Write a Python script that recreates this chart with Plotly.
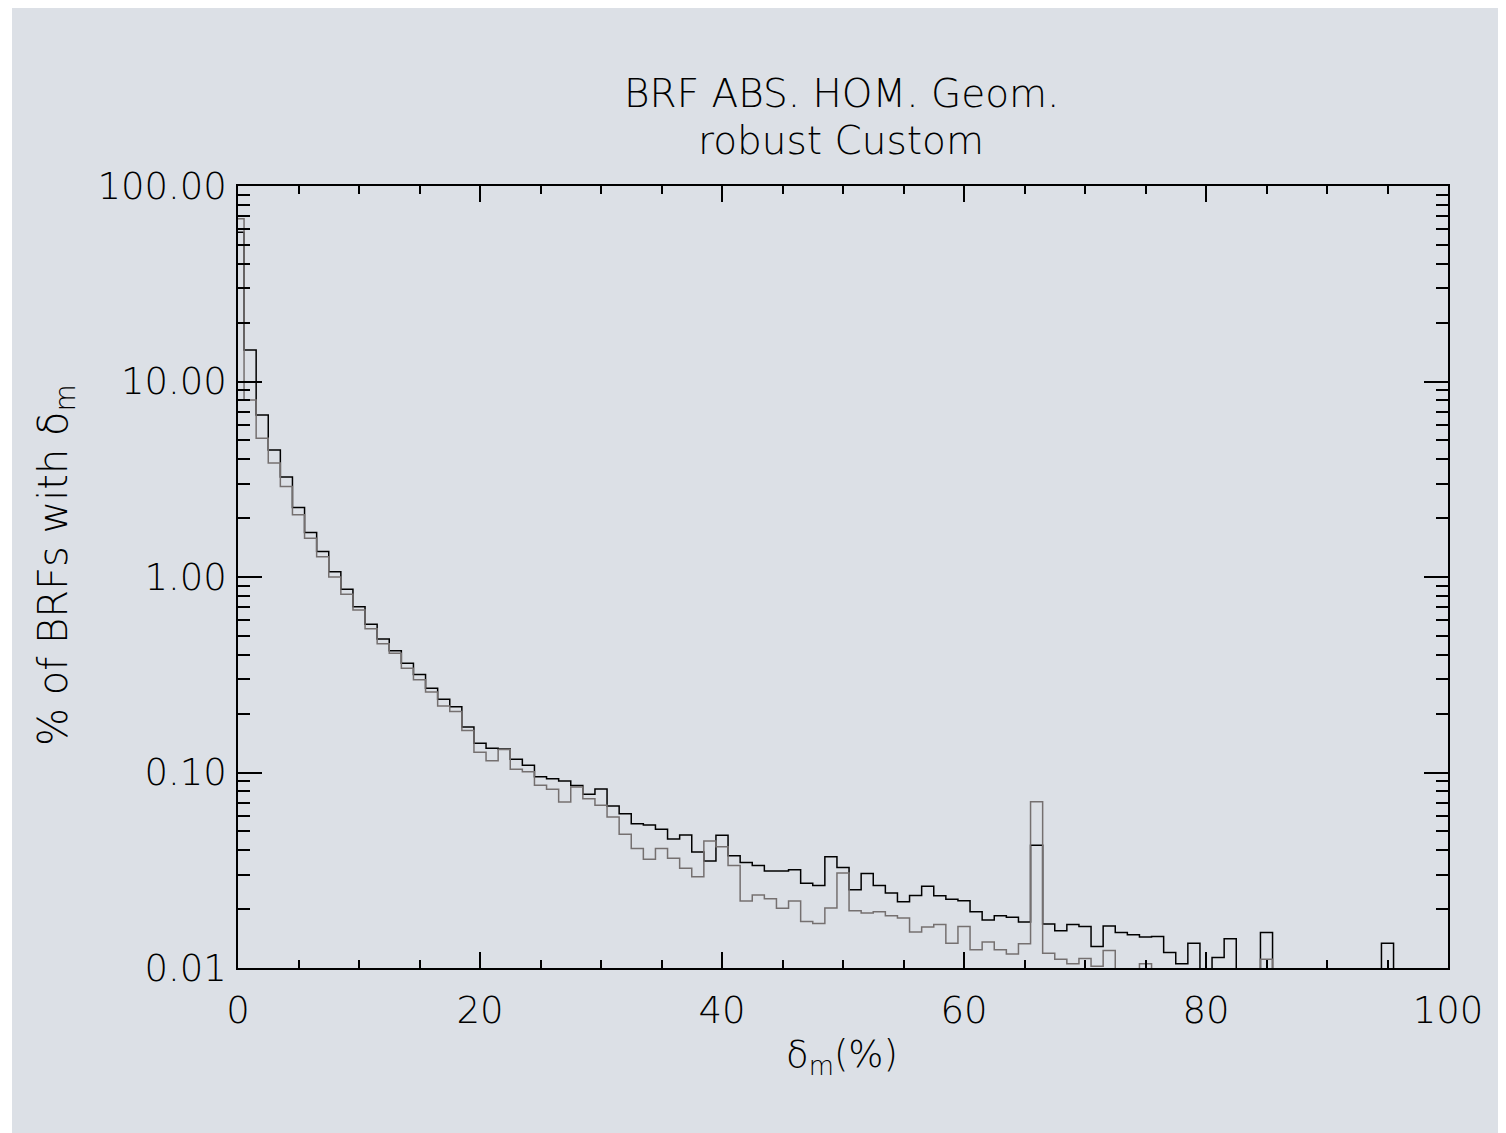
import numpy as np
import plotly.graph_objects as go

# bin centres (delta_m, %)
bins = list(range(0, 101))

# black histogram (% of BRFs), 0 = empty bin
black_vals = [58, 14.5, 6.74, 4.46, 3.25, 2.27, 1.69, 1.35, 1.065, 0.865,
              0.705, 0.573, 0.482, 0.420, 0.362, 0.317, 0.270, 0.237, 0.217, 0.171,
              0.141, 0.133, 0.132, 0.117, 0.109, 0.095, 0.093, 0.0905, 0.0857, 0.0774,
              0.0823, 0.0674, 0.0616, 0.0547, 0.0539, 0.0512, 0.0457, 0.0479, 0.0392, 0.0353,
              0.0477, 0.0375, 0.0346, 0.0334, 0.0313, 0.0313, 0.0318, 0.0271, 0.0264, 0.0371,
              0.0327, 0.0251, 0.0304, 0.0264, 0.0242, 0.0218, 0.0235, 0.0262, 0.0234, 0.0225,
              0.0221, 0.0194, 0.0176, 0.0185, 0.0182, 0.0172, 0.0424, 0.0168, 0.0155, 0.0167,
              0.0163, 0.0129, 0.0164, 0.0152, 0.0148, 0.0144, 0.0145, 0.0120, 0.0105, 0.0134,
              0, 0.0113, 0.0141, 0, 0, 0.0152, 0, 0, 0, 0,
              0, 0, 0, 0, 0, 0.0134, 0, 0, 0, 0,
              0]

# gray histogram
gray_vals = [68, 8.04, 5.12, 3.83, 2.90, 2.08, 1.58, 1.27, 1.00, 0.815,
             0.678, 0.544, 0.456, 0.407, 0.341, 0.298, 0.258, 0.219, 0.205, 0.164,
             0.127, 0.115, 0.131, 0.104, 0.101, 0.086, 0.082, 0.0707, 0.0843, 0.0735,
             0.068, 0.0592, 0.0483, 0.0408, 0.036, 0.0408, 0.0364, 0.0324, 0.0293, 0.0446,
             0.0417, 0.0334, 0.0220, 0.0236, 0.0226, 0.0202, 0.0220, 0.0173, 0.0169, 0.0203,
             0.0306, 0.0196, 0.0191, 0.0194, 0.0185, 0.0180, 0.0153, 0.0162, 0.0167, 0.0134,
             0.0163, 0.0124, 0.0136, 0.0124, 0.0118, 0.0133, 0.0709, 0.0119, 0.0111, 0.0105,
             0.0112, 0.0102, 0.0123, 0, 0, 0.0105, 0, 0, 0, 0,
             0, 0, 0, 0, 0, 0.0111, 0, 0, 0, 0,
             0, 0, 0, 0, 0, 0, 0, 0, 0, 0,
             0]

title_line1 = "BRF ABS. HOM. Geom."
title_line2 = "robust Custom"
x_title = "δ<sub>m</sub>(%)"
y_title = "% of BRFs with δ<sub>m</sub>"

BG = "#dce0e6"
FONT = "DejaVu Sans"
OFF = 8  # page body margin in the browser
W, H = 1498, 1125
# target plot area in window pixels: x 238..1448, y 186..968
L = 238 - OFF
T = 186 - OFF
R = OFF + W - 1448
B = OFF + H - 968
PW, PH = W - L - R, H - T - B


def floor(v):
    a = np.array(v, dtype=float)
    return np.where(a > 0, a, 1e-4)


fig = go.Figure()
fig.add_trace(go.Scatter(x=bins, y=floor(black_vals), mode="lines", line_shape="hvh",
                         line=dict(color="#000000", width=1.5), showlegend=False))
fig.add_trace(go.Scatter(x=bins, y=floor(gray_vals), mode="lines", line_shape="hvh",
                         line=dict(color="#757070", width=1.5), showlegend=False))


def px2x(p):
    # window pixel -> paper x
    return (p - OFF - L) / PW


def px2y(p):
    # window pixel -> paper y
    return (OFF + H - B - p) / PH


tickfont = dict(family=FONT, size=37, color="#000000", weight=200)

fig.update_layout(
    width=W, height=H,
    margin=dict(l=L, r=R, t=T, b=B, pad=0),
    paper_bgcolor="white",
    plot_bgcolor=BG,
    showlegend=False,
    shapes=[dict(type="rect", xref="paper", yref="paper", layer="below",
                 x0=px2x(12), x1=px2x(OFF + W), y0=px2y(OFF + H), y1=px2y(OFF),
                 fillcolor=BG, line=dict(width=0))],
    xaxis=dict(range=[0, 100], tickmode="array", tickvals=[0, 20, 40, 60, 80, 100],
               ticks="inside", ticklen=16, tickwidth=1.5, tickcolor="black",
               showline=True, linecolor="black", linewidth=1.5, mirror="allticks",
               showgrid=False, zeroline=False, tickfont=tickfont, ticklabelstandoff=9,
               minor=dict(ticks="inside", ticklen=8, tickwidth=1.5, tickcolor="black",
                          dtick=5, showgrid=False)),
    yaxis=dict(type="log", range=[-2, 2], dtick=1, tickformat=".2f",
               ticks="inside", ticklen=24, tickwidth=1.5, tickcolor="black",
               showline=True, linecolor="black", linewidth=1.5, mirror="allticks",
               showgrid=False, zeroline=False, tickfont=tickfont, ticklabelstandoff=2,
               minor=dict(ticks="inside", ticklen=12, tickwidth=1.5, tickcolor="black",
                          dtick="D1", showgrid=False)),
    annotations=[
        dict(text=title_line1, x=px2x(841), y=px2y(94), xref="paper", yref="paper",
             showarrow=False, xanchor="center", yanchor="middle",
             font=dict(family=FONT, size=39, color="black", weight=200)),
        dict(text=title_line2, x=px2x(841), y=px2y(140), xref="paper", yref="paper",
             showarrow=False, xanchor="center", yanchor="middle",
             font=dict(family=FONT, size=39, color="black", weight=200)),
        dict(text=x_title, x=px2x(842), y=px2y(1057), xref="paper", yref="paper",
             showarrow=False, xanchor="center", yanchor="middle",
             font=dict(family=FONT, size=37, color="black", weight=200)),
        dict(text=y_title, x=px2x(56), y=px2y(565), xref="paper", yref="paper",
             showarrow=False, xanchor="center", yanchor="middle", textangle=-90,
             font=dict(family=FONT, size=40, color="black", weight=200)),
    ],
)

fig.write_html("out.html")
